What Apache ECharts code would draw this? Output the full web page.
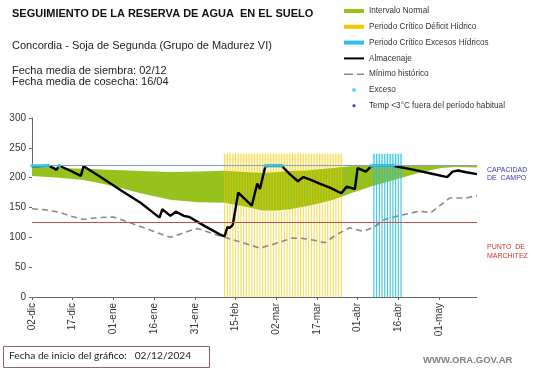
<!DOCTYPE html>
<html>
<head>
<meta charset="utf-8">
<script src="https://cdn.jsdelivr.net/npm/echarts@6/dist/echarts.min.js"></script>
<style>
html,body{margin:0;padding:0;background:#fff;}
#chart{width:541px;height:368px;}
</style>
</head>
<body>
<div id="chart"></div>
<script>
// ---- Data (days counted from 02-dic-2024) ----
const tickLabels = ['02-dic','17-dic','01-ene','16-ene','31-ene','15-feb','02-mar','17-mar','01-abr','16-abr','01-may'];
const tickStep = 15;
const lastDay = 164;

const capacidadCampo = 220;
const puntoMarchitez = 125;

// Intervalo normal (band)
const bandDays  = [0, 10, 19, 30, 40, 51, 61, 71, 80, 85, 90, 95, 101, 106, 111, 117, 125, 134, 144, 151, 156, 164];
const bandLower = [203, 200, 196, 186, 174, 163, 159, 158, 150, 145, 145, 147, 152, 157, 163, 173, 185, 197, 210, 216, 218, 217];
const bandUpper = [218, 216, 215, 213, 211, 209.5, 210.5, 211.5, 209, 208, 209, 211, 212, 214, 216, 219, 220, 220, 220, 220, 220, 220];

// Almacenaje
const almDays = [0, 2, 6, 8, 9, 10, 14, 18, 19, 25, 33, 40, 47, 48, 51, 53, 56, 58, 64, 70, 71, 72, 73, 74, 76, 81, 83, 84, 86, 87, 92, 95, 98, 100, 103, 106, 110, 113, 114, 116, 119, 120, 123, 125, 126, 133, 140, 147, 153, 155, 157, 160, 164];
const almVals = [219, 219, 220, 216, 213, 220, 212, 203, 219, 202, 178, 158, 133, 147, 136, 143, 136, 134, 118, 103, 102, 117, 116, 121, 175, 153, 190, 181, 219, 220, 220, 206, 194, 201, 196, 190, 183, 176, 174, 185, 181, 216, 210, 219, 220, 220, 214, 207, 201, 210, 212, 209, 206];

// Mínimo histórico
const minDays = [0, 5, 10, 14, 19, 24, 30, 34, 40, 46, 51, 55, 58, 61, 66, 71, 77, 84, 88, 92, 96, 100, 104, 108, 112, 117, 122, 126, 130, 136, 143, 147, 150, 154, 160, 164];
const minVals = [148, 146, 142, 136, 130, 133, 134, 128, 118, 108, 100, 106, 111, 115, 107, 100, 92, 82, 87, 93, 99, 98, 95, 91, 104, 116, 110, 117, 130, 137, 144, 141, 152, 166, 166, 170];

// Periodos críticos (one bar per day)
const barTop = 240;
const deficitDays = [71,72,73,74,75,76,77,78,79,80,81,82,83,84,85,86,87,88,89,90,91,92,93,94,95,96,97,98,99,100,101,102,103,104,105,106,107,108,109,110,111,112,113,114];
const excesoPeriodDays = [126,127,128,129,130,131,132,133,134,135,136];

// Exceso (days at field capacity)
const excesoDays = [0, 1, 2, 3, 4, 5, 6, 10, 86, 87, 88, 89, 90, 91, 92, 125, 126, 127, 128, 129, 130, 131, 132, 133];

// Temp <3°C fuera del periodo habitual (none)
const tempDays = [];

// ---- Chart ----
const FONT = 'Liberation Sans, Arial, sans-serif';
const GREEN = '#97c21e';
const YELLOW = '#f5c400';
const CYAN = '#2cc0ea';
const chart = echarts.init(document.getElementById('chart'), null, {renderer: 'canvas'});
const zip = (xs, ys) => xs.map((x, i) => [x, ys[i]]);
const tickValues = tickLabels.map((_, i) => i * tickStep);

const option = {
  animation: false,
  backgroundColor: '#fff',
  grid: {left: 32, right: 64, top: 118, bottom: 71, containLabel: false, outerBoundsMode: 'none'},
  legend: {
    orient: 'vertical', left: 344, top: 6, padding: 0,
    itemWidth: 20, itemHeight: 4, itemGap: 5.8,
    selectedMode: false,
    textStyle: {fontFamily: FONT, fontSize: 8.2, lineHeight: 10, color: '#333'},
    data: [
      {name: 'Intervalo Normal', icon: 'rect'},
      {name: 'Periodo Crítico Déficit Hídrico', icon: 'rect', itemStyle: {color: YELLOW}},
      {name: 'Periodo Crítico Excesos Hídricos', icon: 'rect', itemStyle: {color: CYAN}},
      {name: 'Almacenaje', icon: 'path://M0,0H20V2H0Z'},
      {name: 'Mínimo histórico', icon: 'path://M0,0H9V1.6H0ZM13,0H20V1.6H13Z'},
      {name: 'Exceso', icon: 'circle'},
      {name: 'Temp <3°C fuera del período habitual', icon: 'path://M5,0L10,5L5,10L0,5Z'}
    ]
  },
  xAxis: {
    type: 'value', min: 0, max: lastDay, interval: tickStep,
    splitLine: {show: false},
    axisLine: {lineStyle: {color: '#666'}},
    axisTick: {show: true, length: 3, lineStyle: {color: '#666'}, customValues: tickValues},
    axisLabel: {
      rotate: 90, margin: 6, fontFamily: FONT, fontSize: 10, color: '#333',
      customValues: tickValues,
      formatter: v => tickLabels[Math.round(v / tickStep)] || ''
    }
  },
  yAxis: {
    type: 'value', min: 0, max: 300, interval: 50,
    name: 'Milímetros', nameLocation: 'middle', nameGap: 24,
    nameTextStyle: {fontFamily: FONT, fontSize: 7, color: '#333'},
    splitLine: {show: false},
    axisLine: {show: true, lineStyle: {color: '#666'}},
    axisTick: {show: true, length: 3, lineStyle: {color: '#666'}},
    axisLabel: {margin: 6, fontFamily: FONT, fontSize: 10, color: '#333'}
  },
  series: [
    {
      name: 'Intervalo Normal', type: 'line', data: zip(bandDays, bandUpper),
      symbol: 'none', color: GREEN, itemStyle: {color: GREEN},
      lineStyle: {width: 0, color: GREEN}, areaStyle: {color: GREEN, opacity: 1}, z: 1
    },
    {
      name: 'bandLower', type: 'line', data: zip(bandDays, bandLower),
      symbol: 'none', lineStyle: {width: 0}, areaStyle: {color: '#fff', opacity: 1}, silent: true, z: 1
    },
    {
      name: 'Periodo Crítico Déficit Hídrico', type: 'bar', barWidth: 1.2, barGap: '-100%',
      data: deficitDays.map(d => [d, barTop]),
      itemStyle: {color: 'rgba(242,200,0,0.6)'}, color: YELLOW, z: 2,
      markArea: {silent: true, itemStyle: {color: 'rgba(255,238,150,0.35)'},
        data: [[{xAxis: deficitDays[0] - 0.5, yAxis: 0}, {xAxis: deficitDays[deficitDays.length - 1] + 0.5, yAxis: barTop}]]}
    },
    {
      name: 'Periodo Crítico Excesos Hídricos', type: 'bar', barWidth: 1.2, barGap: '-100%',
      data: excesoPeriodDays.map(d => [d, barTop]),
      itemStyle: {color: 'rgba(40,190,225,0.85)'}, color: CYAN, z: 2,
      markArea: {silent: true, itemStyle: {color: 'rgba(150,225,245,0.35)'},
        data: [[{xAxis: excesoPeriodDays[0] - 0.5, yAxis: 0}, {xAxis: excesoPeriodDays[excesoPeriodDays.length - 1] + 0.5, yAxis: barTop}]]}
    },
    {
      name: 'Mínimo histórico', type: 'line', data: zip(minDays, minVals), symbol: 'none',
      color: '#8a8a8a', lineStyle: {color: '#8a8a8a', width: 1.6, type: [6, 4]}, z: 3,
      markLine: {
        silent: true, symbol: 'none', label: {show: false},
        data: [
          {yAxis: capacidadCampo, lineStyle: {color: '#7f9bd0', width: 1, type: 'solid'}},
          {yAxis: puntoMarchitez, lineStyle: {color: '#c0504d', width: 1, type: 'solid'}}
        ]
      }
    },
    {
      name: 'Almacenaje', type: 'line', data: zip(almDays, almVals), symbol: 'none',
      color: '#000', lineStyle: {color: '#000', width: 2.4}, z: 4
    },
    {
      name: 'Exceso', type: 'scatter', data: excesoDays.map(d => [d, capacidadCampo]),
      symbol: 'circle', symbolSize: 4, color: '#3cc8e8', itemStyle: {color: '#3cc8e8'}, z: 5
    },
    {
      name: 'Temp <3°C fuera del período habitual', type: 'scatter', data: tempDays.map(d => [d, 0]),
      symbol: 'diamond', symbolSize: 6, color: '#1a1a99', itemStyle: {color: '#1a1a99'}, z: 5
    }
  ],
  graphic: [
    {type: 'text', left: 12, top: 8, style: {text: 'SEGUIMIENTO DE LA RESERVA DE AGUA  EN EL SUELO', font: 'bold 11px ' + FONT, fill: '#111'}},
    {type: 'text', left: 12, top: 40, style: {text: 'Concordia - Soja de Segunda (Grupo de Madurez VI)', font: '11px ' + FONT, fill: '#222'}},
    {type: 'text', left: 12, top: 65, style: {text: 'Fecha media de siembra: 02/12', font: '11px ' + FONT, fill: '#222'}},
    {type: 'text', left: 12, top: 76, style: {text: 'Fecha media de cosecha: 16/04', font: '11px ' + FONT, fill: '#222'}},
    {type: 'text', left: 487, top: 166, style: {text: 'CAPACIDAD\nDE  CAMPO', font: '7px ' + FONT, lineHeight: 8, fill: '#3a3ab0'}},
    {type: 'text', left: 487, top: 243, style: {text: 'PUNTO  DE\nMARCHITEZ', font: '7px ' + FONT, lineHeight: 8.5, fill: '#cc3333'}},
    {type: 'rect', left: 3, top: 346, shape: {width: 206, height: 21}, style: {fill: '#fff', stroke: '#8c6464', lineWidth: 1}},
    {type: 'text', left: 9, top: 351, style: {text: 'Fecha de inicio del gráfico:   02/12/2024', font: '10.2px Lato, sans-serif', fill: '#222'}},
    {type: 'text', left: 423, top: 355, style: {text: 'WWW.ORA.GOV.AR', font: 'bold 9.5px ' + FONT, fill: '#808080'}}
  ]
};
chart.setOption(option);
</script>
</body>
</html>
